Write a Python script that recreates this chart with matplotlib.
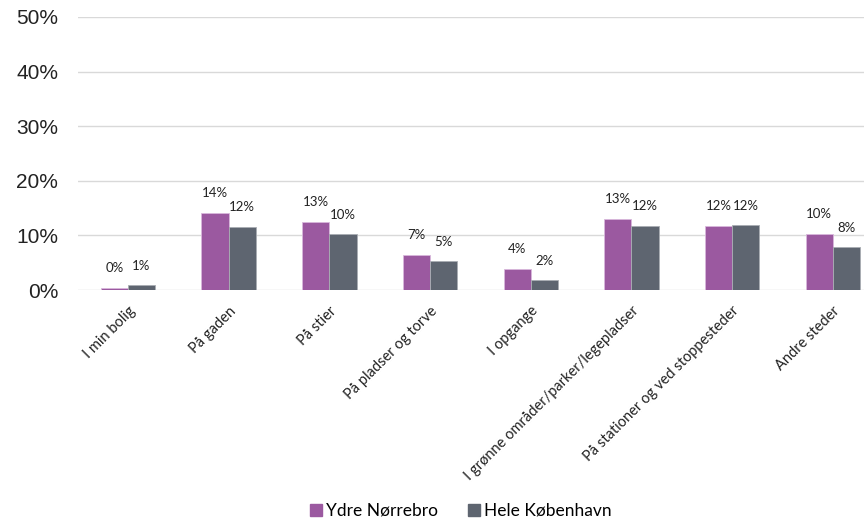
import matplotlib
matplotlib.use("Agg")
import matplotlib.pyplot as plt
import numpy as np
from matplotlib.lines import Line2D

categories = ["I min bolig", "På gaden", "På stier", "På pladser og torve", "I opgange",
              "I grønne områder/parker/legepladser", "På stationer og ved stoppesteder", "Andre steder"]
ydre = [0.003, 0.141, 0.125, 0.065, 0.038, 0.130, 0.117, 0.103]
hele = [0.009, 0.116, 0.103, 0.053, 0.018, 0.118, 0.119, 0.079]
ydre_labels = ["0%", "14%", "13%", "7%", "4%", "13%", "12%", "10%"]
hele_labels = ["1%", "12%", "10%", "5%", "2%", "12%", "12%", "8%"]
series_names = ["Ydre Nørrebro", "Hele København"]
yticks = [0, 0.1, 0.2, 0.3, 0.4, 0.5]
ytick_labels = ["0%", "10%", "20%", "30%", "40%", "50%"]

purple = "#9B59A0"
gray = "#5E6570"
lab_font = "Lato"

fig = plt.figure(figsize=(8.64, 5.23), dpi=100)
ax = fig.add_axes([77.6 / 864, 233 / 523, 805.6 / 864, 273 / 523])

x = np.arange(len(categories))
w = 0.27
ax.bar(x - w / 2, ydre, w, color=purple, edgecolor="#d9b8dc", linewidth=0.6, zorder=3)
ax.bar(x + w / 2, hele, w, color=gray, edgecolor="#a9adb3", linewidth=0.6, zorder=3)

for xi, v, t in zip(x, ydre, ydre_labels):
    ax.annotate(t, (xi - w / 2, v), xytext=(0, 10), textcoords="offset points",
                ha="center", va="bottom", fontsize=9.5, family=lab_font, color="#222222")
for xi, v, t in zip(x, hele, hele_labels):
    ax.annotate(t, (xi + w / 2, v), xytext=(0, 9.5), textcoords="offset points",
                ha="center", va="bottom", fontsize=9.5, family=lab_font, color="#222222")

ax.set_xlim(-0.5, len(categories) - 0.5)
ax.set_ylim(0, 0.5)
ax.set_yticks(yticks)
ax.set_yticklabels(ytick_labels, fontsize=15, family="Liberation Sans", color="#222222")
ax.set_xticks(x)
ax.set_xticklabels(categories, rotation=45, ha="right", rotation_mode="anchor",
                   fontsize=10.5, family=lab_font, color="#222222")
ax.tick_params(axis="both", length=0)
ax.tick_params(axis="y", pad=14)
ax.tick_params(axis="x", pad=10)
ax.grid(axis="y", color="#d9d9d9", linewidth=1, zorder=0)
for s in ax.spines.values():
    s.set_visible(False)

handles = [Line2D([], [], marker="s", linestyle="", markersize=9, color=purple),
           Line2D([], [], marker="s", linestyle="", markersize=9, color=gray)]
fig.legend(handles, series_names, loc="lower center", bbox_to_anchor=(0.532, -0.022), ncol=2,
           frameon=False, prop={"family": lab_font, "size": 12.5}, handletextpad=0.05,
           columnspacing=1.6, handlelength=1.0)

fig.savefig("out.png", dpi=100)
